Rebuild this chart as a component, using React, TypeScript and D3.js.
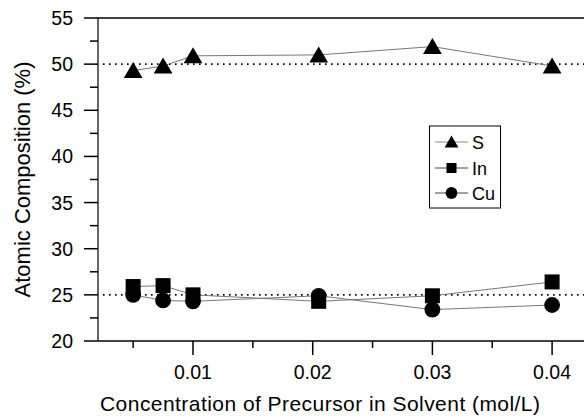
import React from "react";
import * as d3 from "d3";

const concentrations = [0.005, 0.0075, 0.01, 0.0205, 0.03, 0.04];
const sValues = [49.3, 49.8, 50.9, 51.0, 51.9, 49.8];
const inValues = [25.9, 26.0, 25.0, 24.3, 24.9, 26.4];
const cuValues = [25.0, 24.4, 24.3, 24.9, 23.4, 23.9];
const xMajorTicks = [0.01, 0.02, 0.03, 0.04];
const xMinorTicks = [0.005, 0.015, 0.025, 0.035];
const yMajorTicks = [20, 25, 30, 35, 40, 45, 50, 55];
const yMinorTicks = [22.5, 27.5, 32.5, 37.5, 42.5, 47.5, 52.5];
const refLines = [50, 25];
const seriesNames = ["S", "In", "Cu"];

const W = 584, H = 416;
const left = 98, top = 18, bottom = 341;
const font = "'Liberation Sans', Arial, sans-serif";

function Marker({ kind, x, y, s }: { kind: string; x: number; y: number; s: number }) {
  if (kind === "S") {
    const w = s * 1.25, h = s;
    return <path d={`M${x},${y - h / 2 - 1}L${x + w / 2},${y + h / 2}L${x - w / 2},${y + h / 2}Z`} fill="#000" />;
  }
  if (kind === "In") return <rect x={x - s / 2} y={y - s / 2} width={s} height={s} fill="#000" />;
  return <circle cx={x} cy={y} r={s / 2 + 0.4} fill="#000" />;
}

export default function App() {
  const x = d3.scaleLinear().domain([0, 0.01]).range([73.3, 193]);
  const y = d3.scaleLinear().domain([20, 55]).range([bottom, top]);
  const series = [
    { name: "S", values: sValues },
    { name: "In", values: inValues },
    { name: "Cu", values: cuValues },
  ];
  const line = d3.line<[number, number]>().x(d => x(d[0])).y(d => y(d[1]));
  const legendY = [142, 168, 193];
  return (
    <svg width={W} height={H} style={{ position: "absolute", left: 0, top: 0, background: "#fff" }}>
      <defs>
        <clipPath id="pc"><rect x={left} y={top - 20} width={W} height={bottom - top + 40} /></clipPath>
      </defs>
      {refLines.map(v => (
        <line key={v} x1={left + 5} x2={W} y1={y(v)} y2={y(v)} stroke="#000" strokeWidth={1.6} strokeDasharray="1.6 4.4" />
      ))}
      <g clipPath="url(#pc)">
        {series.map(s => (
          <path key={s.name} d={line(concentrations.map((c, i) => [c, s.values[i]]) as [number, number][]) || ""} fill="none" stroke="#777" strokeWidth={1} />
        ))}
        {series.map(s => concentrations.map((c, i) => (
          <Marker key={s.name + i} kind={s.name} x={x(c)} y={y(s.values[i])} s={15} />
        )))}
      </g>
      <line x1={left} x2={W} y1={top} y2={top} stroke="#000" strokeWidth={1.5} />
      <line x1={left} x2={W} y1={bottom} y2={bottom} stroke="#000" strokeWidth={1.5} />
      <line x1={left} x2={left} y1={top} y2={bottom} stroke="#333" strokeWidth={1.5} />
      {yMajorTicks.map(t => (
        <g key={t}>
          <line x1={left - 14} x2={left} y1={y(t)} y2={y(t)} stroke="#000" strokeWidth={1.5} />
          <text x={73} y={y(t) + 7} textAnchor="end" fontFamily={font} fontSize={19.5} fill="#000">{t}</text>
        </g>
      ))}
      {yMinorTicks.map(t => (
        <line key={t} x1={left - 8} x2={left} y1={y(t)} y2={y(t)} stroke="#000" strokeWidth={1.5} />
      ))}
      {xMajorTicks.map(t => (
        <g key={t}>
          <line x1={x(t)} x2={x(t)} y1={bottom} y2={bottom + 14} stroke="#000" strokeWidth={1.5} />
          <text x={x(t)} y={379} textAnchor="middle" fontFamily={font} fontSize={19.5} fill="#000">{d3.format(".2f")(t)}</text>
        </g>
      ))}
      {xMinorTicks.map(t => (
        <line key={t} x1={x(t)} x2={x(t)} y1={bottom} y2={bottom + 7} stroke="#000" strokeWidth={1.5} />
      ))}
      <text x={320} y={411} textAnchor="middle" fontFamily={font} fontSize={21} textLength={440} lengthAdjust="spacing" fill="#000">Concentration of Precursor in Solvent (mol/L)</text>
      <text transform={`translate(30,${(top + bottom) / 2}) rotate(-90)`} textAnchor="middle" fontFamily={font} fontSize={22} fill="#000">Atomic Composition (%)</text>
      <rect x={429.5} y={126} width={71} height={82} fill="#fff" stroke="#000" strokeWidth={1} />
      {seriesNames.map((n, i) => (
        <g key={n}>
          <line x1={435} x2={468} y1={legendY[i]} y2={legendY[i]} stroke={i === 0 ? "#888" : "#444"} strokeWidth={1} />
          <Marker kind={n} x={451.5} y={legendY[i]} s={n === "In" ? 10 : 11} />
          <text x={472} y={legendY[i] + 6.5} fontFamily={font} fontSize={18} fill="#000">{n}</text>
        </g>
      ))}
    </svg>
  );
}
